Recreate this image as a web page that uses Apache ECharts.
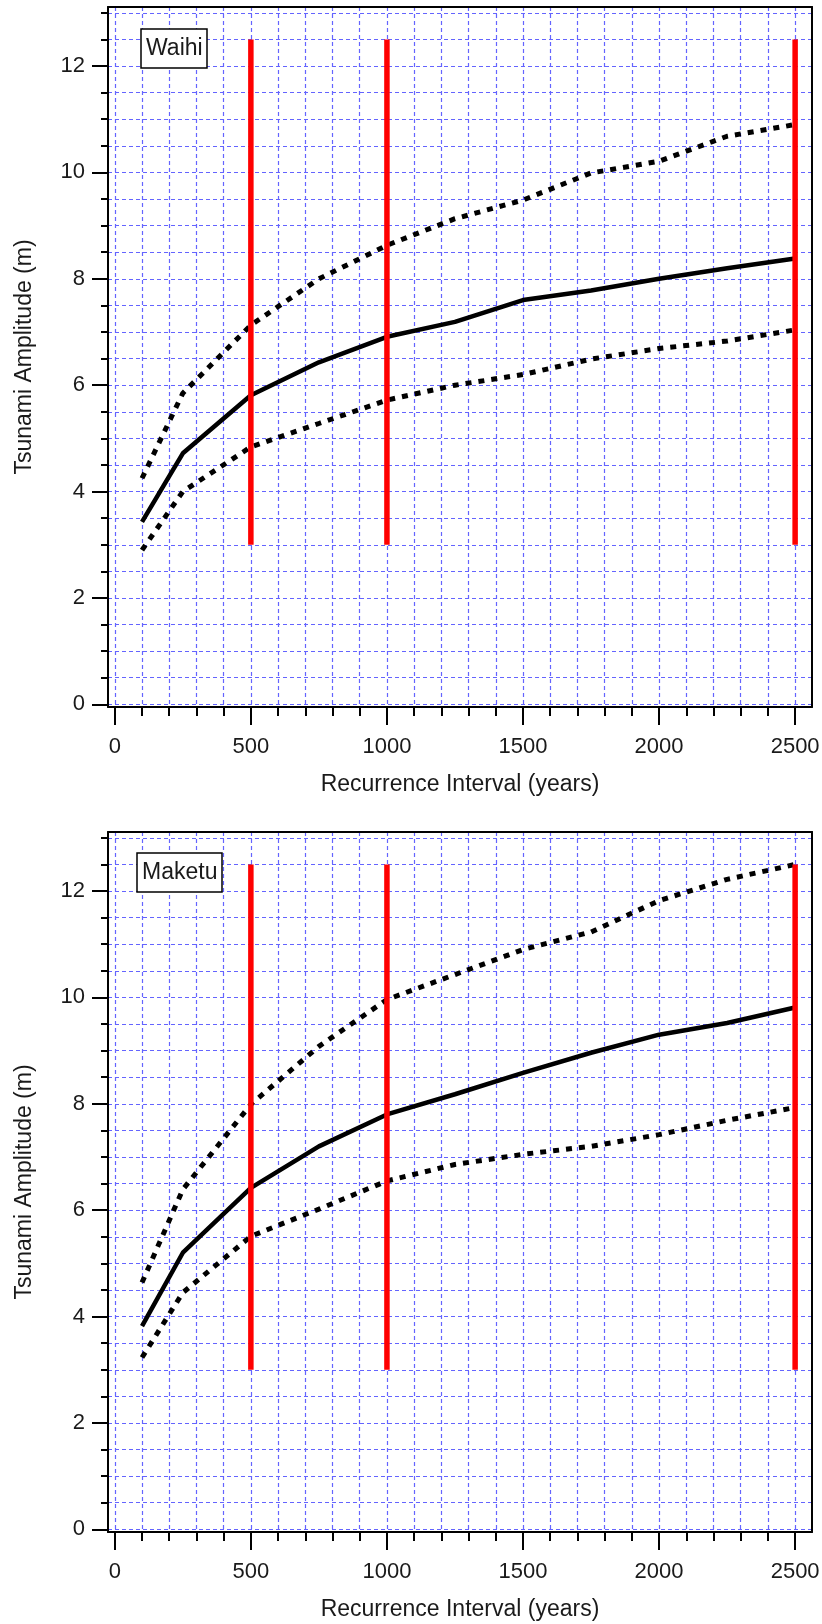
<!DOCTYPE html>
<html>
<head>
<meta charset="utf-8">
<script src="https://cdn.jsdelivr.net/npm/echarts@6/dist/echarts.min.js"></script>
<style>
html,body{margin:0;padding:0;background:#fff;}
#c{width:822px;height:1624px;}
</style>
</head>
<body>
<div id="c"></div>
<script>
// ---- data ----
const years = [100, 250, 500, 750, 1000, 1250, 1500, 1750, 2000, 2250, 2500];

const waihiMedian = [3.43, 4.72, 5.81, 6.43, 6.91, 7.19, 7.60, 7.78, 8.00, 8.20, 8.38];
const waihiUpper  = [4.25, 5.85, 7.13, 8.00, 8.63, 9.13, 9.48, 9.99, 10.21, 10.68, 10.90];
const waihiLower  = [2.90, 4.00, 4.84, 5.28, 5.72, 6.00, 6.20, 6.49, 6.69, 6.83, 7.04];

const maketuMedian = [3.82, 5.20, 6.42, 7.20, 7.80, 8.18, 8.58, 8.96, 9.30, 9.52, 9.81];
const maketuUpper  = [4.64, 6.39, 7.99, 9.08, 9.96, 10.43, 10.90, 11.23, 11.82, 12.22, 12.50];
const maketuLower  = [3.23, 4.45, 5.51, 6.02, 6.55, 6.86, 7.05, 7.20, 7.42, 7.69, 7.93];

const redYears = [500, 1000, 2500];
const redRange = [3, 12.5];

const xTickValues = [0, 500, 1000, 1500, 2000, 2500];
const yTickValues = [0, 2, 4, 6, 8, 10, 12];

const panelNames = ['Waihi', 'Maketu'];
const xAxisTitle = 'Recurrence Interval (years)';
const yAxisTitle = 'Tsunami Amplitude (m)';

// ---- styling / layout ----
const FONT = 'Liberation Sans, Arial, sans-serif';
const GRIDC = '#6464ff';
const panels = [
  {name: panelNames[0], median: waihiMedian, upper: waihiUpper, lower: waihiLower},
  {name: panelNames[1], median: maketuMedian, upper: maketuUpper, lower: maketuLower}
];
const gridTops = [7, 832];

const pairs = (xs, ys) => xs.map((x, i) => [x, ys[i]]);
const plain = v => String(v);

const grids = [], xAxes = [], yAxes = [], series = [], titles = [];

panels.forEach((p, gi) => {
  grids.push({left: 108, top: gridTops[gi], width: 704, height: 700, outerBoundsMode: 'none', containLabel: false});
  const dashLine = {color: GRIDC, width: 1.2, type: [4, 3]};
  xAxes.push({
    type: 'value', gridIndex: gi, min: -25, max: 2562, splitNumber: 5,
    axisLine: {show: true, onZero: false, lineStyle: {color: '#000', width: 2}},
    axisTick: {show: true, customValues: xTickValues, length: 18, lineStyle: {color: '#000', width: 2}},
    minorTick: {show: true, splitNumber: 5, length: 9, lineStyle: {color: '#000', width: 2}},
    axisLabel: {customValues: xTickValues, formatter: plain, fontSize: 22, color: '#1a1a1a', fontFamily: FONT, margin: 29},
    splitLine: {show: true, lineStyle: dashLine},
    minorSplitLine: {show: true, lineStyle: dashLine},
    name: xAxisTitle, nameLocation: 'middle', nameGap: 66, nameMoveOverlap: false,
    nameTextStyle: {fontSize: 23, color: '#1a1a1a', fontFamily: FONT}
  });
  xAxes.push({
    type: 'value', gridIndex: gi, position: 'top', min: 0, max: 1,
    axisLine: {show: true, onZero: false, lineStyle: {color: '#000', width: 2}},
    axisTick: {show: false}, axisLabel: {show: false}, splitLine: {show: false}
  });
  yAxes.push({
    type: 'value', gridIndex: gi, min: -0.05, max: 13.11, splitNumber: 6,
    axisLine: {show: true, onZero: false, lineStyle: {color: '#000', width: 2}},
    axisTick: {show: true, customValues: yTickValues, length: 16, lineStyle: {color: '#000', width: 2}},
    minorTick: {show: true, splitNumber: 4, length: 7, lineStyle: {color: '#000', width: 2}},
    axisLabel: {customValues: yTickValues, formatter: plain, fontSize: 22, color: '#1a1a1a', fontFamily: FONT, margin: 23},
    splitLine: {show: true, lineStyle: dashLine},
    minorSplitLine: {show: true, lineStyle: dashLine},
    name: yAxisTitle, nameLocation: 'middle', nameGap: 72, nameMoveOverlap: false,
    nameTextStyle: {fontSize: 23, color: '#1a1a1a', fontFamily: FONT}
  });
  yAxes.push({
    type: 'value', gridIndex: gi, position: 'right', min: 0, max: 1,
    axisLine: {show: true, onZero: false, lineStyle: {color: '#000', width: 2}},
    axisTick: {show: false}, axisLabel: {show: false}, splitLine: {show: false}
  });

  const xi = gi * 2, yi = gi * 2;
  series.push({
    type: 'line', xAxisIndex: xi, yAxisIndex: yi, data: pairs(years, p.median),
    symbol: 'none', z: 3, lineStyle: {color: '#000', width: 4.5}
  });
  series.push({
    type: 'line', xAxisIndex: xi, yAxisIndex: yi, data: pairs(years, p.upper),
    symbol: 'none', z: 3, lineStyle: {color: '#000', width: 5, type: [6, 7], cap: 'butt'}
  });
  series.push({
    type: 'line', xAxisIndex: xi, yAxisIndex: yi, data: pairs(years, p.lower),
    symbol: 'none', z: 3, lineStyle: {color: '#000', width: 5, type: [6, 7], cap: 'butt'}
  });
  redYears.forEach(ry => {
    series.push({
      type: 'line', xAxisIndex: xi, yAxisIndex: yi, data: redRange.map(v => [ry, v]),
      symbol: 'none', z: 4, lineStyle: {color: '#ff0000', width: 5.5, cap: 'butt'}
    });
  });

  titles.push({
    text: p.name, left: gi === 0 ? 141 : 137, top: gi === 0 ? 29 : 853,
    padding: [8, 5], borderColor: '#000', borderWidth: 1.5, backgroundColor: '#fff',
    textStyle: {fontSize: 23, fontWeight: 'normal', color: '#1a1a1a', fontFamily: FONT}
  });
});

const chart = echarts.init(document.getElementById('c'), null, {renderer: 'canvas'});
chart.setOption({
  animation: false,
  backgroundColor: '#fff',
  title: titles,
  grid: grids,
  xAxis: xAxes,
  yAxis: yAxes,
  series: series
});
</script>
</body>
</html>
